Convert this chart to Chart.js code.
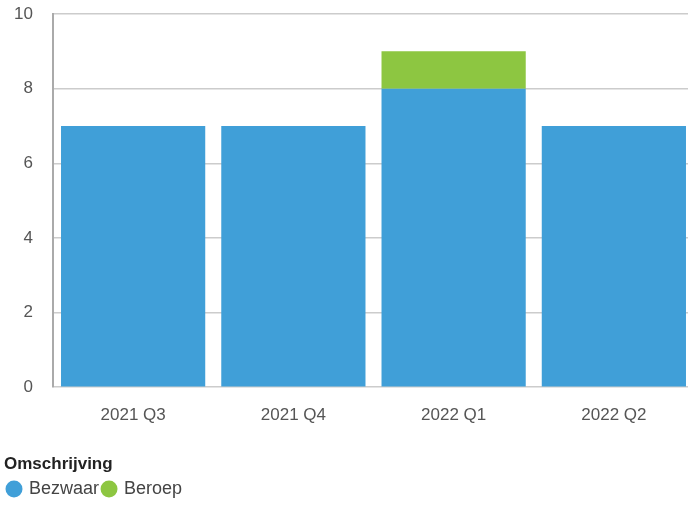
<!DOCTYPE html>
<html>
<head>
<meta charset="utf-8">
<script src="https://cdn.jsdelivr.net/npm/chart.js@4"></script>
<style>
  html, body { margin: 0; padding: 0; background: #fff; overflow: hidden; }
  #clip { width: 688px; height: 508px; overflow: hidden; }
  /* plot loopt iets voorbij de rechterrand, net als in het origineel */
  #wrap { width: 694px; height: 508px; position: relative; }
</style>
</head>
<body>
<div id="clip"><div id="wrap"><canvas id="chart"></canvas></div></div>
<script>
// data
const categories = ['2021 Q3', '2021 Q4', '2022 Q1', '2022 Q2']
const bezwaar = [7, 7, 8, 7]
const beroep = [0, 0, 1, 0]
const yTicks = [0, 2, 4, 6, 8, 10]

const font = "'Liberation Sans', Arial, sans-serif"

const ctx = document.getElementById('chart').getContext('2d')
const chart = new Chart(ctx, {
    type: 'bar',
    data: {
        labels: categories,
        datasets: [{
            label: 'Bezwaar',
            data: bezwaar,
            backgroundColor: '#409fd8',
            borderWidth: 0,
            barPercentage: 0.9,
            categoryPercentage: 1.0
        }, {
            label: 'Beroep',
            data: beroep,
            backgroundColor: '#8dc641',
            borderWidth: 0,
            barPercentage: 0.9,
            categoryPercentage: 1.0
        }]
    },
    options: {
        responsive: true,
        maintainAspectRatio: false,
        animation: false,
        layout: { padding: { top: 0, right: 0, left: 4, bottom: 0 } },
        scales: {
            x: {
                stacked: true,
                grid: { display: false },
                border: { display: false },
                ticks: { color: '#555', font: { family: font, size: 17 }, padding: 10 }
            },
            y: {
                stacked: true,
                min: 0,
                max: 10,
                afterBuildTicks: axis => { axis.ticks = yTicks.map(v => ({ value: v })) },
                // vaste breedte, en de bovenkant niet laten opschuiven door de tick-padding
                afterFit: axis => {
                    axis.width = 49
                    axis.paddingTop = 14
                    axis.paddingBottom = 10
                },
                grid: { color: '#cccccc', lineWidth: 1.5, drawTicks: false },
                border: { display: true, color: '#aaa', width: 2 },
                ticks: { color: '#555', font: { family: font, size: 17 }, padding: 20 }
            }
        },
        plugins: {
            tooltip: { enabled: false },
            legend: {
                position: 'bottom',
                align: 'start',
                title: {
                    display: true,
                    text: 'Omschrijving',
                    position: 'start',
                    color: '#222',
                    font: { family: font, size: 17, weight: 'bold' },
                    padding: { top: 20, bottom: 0 }
                },
                labels: {
                    usePointStyle: true,
                    pointStyle: 'circle',
                    boxWidth: 12,
                    boxHeight: 12,
                    padding: 4,
                    color: '#444',
                    font: { family: font, size: 18 }
                }
            }
        }
    }
})
</script>
</body>
</html>
